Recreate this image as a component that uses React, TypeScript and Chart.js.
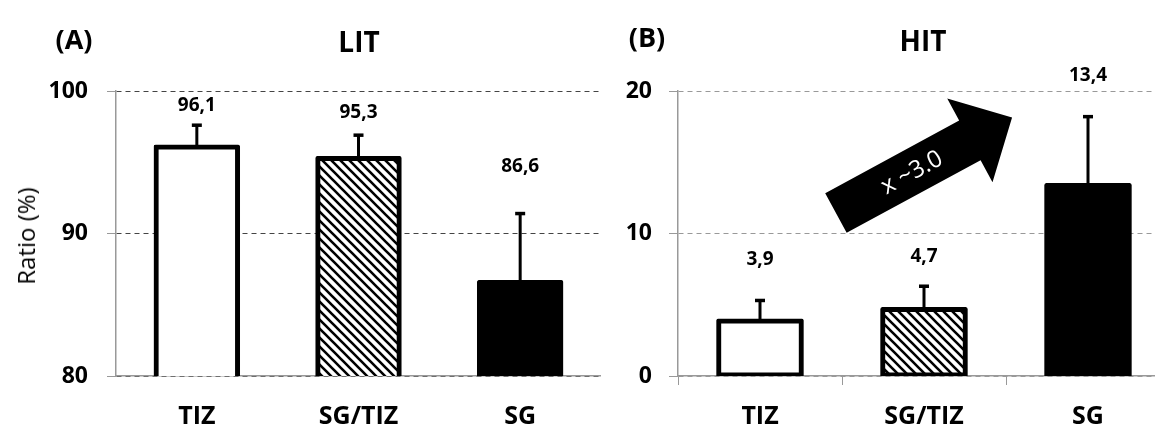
import React, { useEffect, useRef } from "react";
import { Chart, registerables } from "chart.js";

Chart.register(...registerables);

// ---- data ----
const categories = ["TIZ", "SG/TIZ", "SG"];
const litValues = [96.1, 95.3, 86.6];
const litErrors = [1.5, 1.6, 4.8];
const litValueLabels = ["96,1", "95,3", "86,6"];
const litTicks = [80, 90, 100];

const hitValues = [3.9, 4.7, 13.4];
const hitErrors = [1.4, 1.6, 4.8];
const hitValueLabels = ["3,9", "4,7", "13,4"];
const hitTicks = [0, 10, 20];

// label anchor heights (in value units)
const litLabelAt = [99.0, 98.5, 94.7];
const hitLabelAt = [8.15, 8.35, 21.05];

const FONT = "'Open Sans', Lato, sans-serif";

function makeHatch(): CanvasPattern | string {
  const s = 9;
  const c = document.createElement("canvas");
  c.width = s;
  c.height = s;
  const g = c.getContext("2d");
  if (!g) return "#888";
  g.fillStyle = "#fff";
  g.fillRect(0, 0, s, s);
  g.strokeStyle = "#000";
  g.lineWidth = 2.6;
  g.beginPath();
  g.moveTo(-2, -2);
  g.lineTo(s + 2, s + 2);
  g.moveTo(-2, s - 2);
  g.lineTo(2, s + 2);
  g.moveTo(s - 2, -2);
  g.lineTo(s + 2, 2);
  g.stroke();
  const p = g.createPattern(c, "repeat");
  return p || "#888";
}

const errPlugin = {
  id: "errs",
  afterDatasetsDraw(chart: any, _args: any, opts: any) {
    const meta = chart.getDatasetMeta(0);
    const y = chart.scales.y;
    const ctx = chart.ctx;
    ctx.save();
    meta.data.forEach((bar: any, i: number) => {
      const v = opts.values[i];
      const e = opts.errors[i];
      const x = bar.x;
      const yTop = y.getPixelForValue(v + e);
      const yBase = y.getPixelForValue(v);
      ctx.strokeStyle = "#000";
      ctx.lineWidth = 3;
      ctx.beginPath();
      ctx.moveTo(x, yBase);
      ctx.lineTo(x, yTop);
      ctx.stroke();
      ctx.lineWidth = 3.5;
      ctx.beginPath();
      ctx.moveTo(x - 5, yTop);
      ctx.lineTo(x + 5, yTop);
      ctx.stroke();
      ctx.font = `bold 19px ${FONT}`;
      ctx.fillStyle = "#000";
      ctx.textAlign = "center";
      ctx.textBaseline = "middle";
      ctx.fillText(opts.labels[i], x, y.getPixelForValue(opts.labelAt[i]));
    });
    ctx.restore();
  },
};

const arrowPlugin = {
  id: "arrow",
  afterDatasetsDraw(chart: any, _args: any, opts: any) {
    if (!opts || !opts.from) return;
    const xs = chart.scales.x;
    const ys = chart.scales.y;
    const tx = xs.getPixelForValue(opts.from.x);
    const ty = ys.getPixelForValue(opts.from.y);
    const px = xs.getPixelForValue(opts.to.x);
    const py = ys.getPixelForValue(opts.to.y);
    const dx = px - tx;
    const dy = py - ty;
    const len = Math.hypot(dx, dy);
    const ux = dx / len;
    const uy = dy / len;
    const nx = -uy;
    const ny = ux;
    const w = opts.shaft / 2;
    const h = opts.head / 2;
    const L = opts.headLength;
    const bx = tx + ux * (len - L);
    const by = ty + uy * (len - L);
    const ctx = chart.ctx;
    ctx.save();
    ctx.fillStyle = "#000";
    ctx.beginPath();
    ctx.moveTo(tx + nx * w, ty + ny * w);
    ctx.lineTo(bx + nx * w, by + ny * w);
    ctx.lineTo(bx + nx * h, by + ny * h);
    ctx.lineTo(px, py);
    ctx.lineTo(bx - nx * h, by - ny * h);
    ctx.lineTo(bx - nx * w, by - ny * w);
    ctx.lineTo(tx - nx * w, ty - ny * w);
    ctx.closePath();
    ctx.fill();
    const cx = tx + ux * opts.textAt;
    const cy = ty + uy * opts.textAt;
    ctx.translate(cx, cy);
    ctx.rotate(Math.atan2(dy, dx));
    ctx.fillStyle = "#fff";
    ctx.font = `24px ${FONT}`;
    ctx.textAlign = "center";
    ctx.textBaseline = "middle";
    ctx.fillText(opts.text, 0, 1);
    ctx.restore();
  },
};

function makeConfig(
  values: number[],
  errors: number[],
  labels: string[],
  labelAt: number[],
  ticks: number[],
  gridColor: string,
  axisWidth: number,
  tickPad: number,
  rightPad: number,
  xTicks: boolean,
  arrow: any
): any {
  const hatch = makeHatch();
  return {
    type: "bar",
    data: {
      labels: categories,
      datasets: [
        {
          data: values,
          backgroundColor: ["#ffffff", hatch, "#000000"],
          borderColor: "#000",
          borderWidth: 5,
          borderSkipped: false,
          borderRadius: 2,
          inflateAmount: 2,
          barPercentage: 0.51,
          categoryPercentage: 1,
        },
      ],
    },
    options: {
      animation: false,
      responsive: false,
      maintainAspectRatio: false,
      layout: { padding: { top: 91, right: rightPad, bottom: 0, left: 0 } },
      plugins: {
        legend: { display: false },
        tooltip: { enabled: false },
        errs: { values, errors, labels, labelAt },
        arrow: arrow || {},
      },
      scales: {
        x: {
          offset: true,
          grid: {
            display: xTicks,
            drawOnChartArea: false,
            drawTicks: true,
            tickLength: 9,
            color: "#999",
            offset: true,
          },
          border: { display: true, color: "#999", width: 1.5 },
          ticks: {
            color: "#000",
            font: { family: FONT, size: 25, weight: "bold" },
            padding: 17,
          },
          afterFit: (s: any) => {
            s.height = 49;
          },
        },
        y: {
          min: ticks[0],
          max: ticks[ticks.length - 1],
          afterBuildTicks: (s: any) => {
            s.ticks = ticks.map((v) => ({ value: v }));
          },
          grid: {
            color: gridColor,
            lineWidth: 1,
            tickColor: "#999",
            tickLength: 9,
            drawTicks: true,
          },
          border: { display: true, color: "#999", width: 1.5, dash: [5, 4] },
          ticks: {
            color: "#000",
            font: { family: FONT, size: 23, weight: "bold" },
            padding: tickPad,
          },
          afterFit: (s: any) => {
            s.width = axisWidth;
          },
        },
      },
    },
    plugins: [errPlugin, arrowPlugin],
  };
}

function Panel(props: { left: number; width: number; config: () => any }) {
  const ref = useRef<HTMLCanvasElement | null>(null);
  useEffect(() => {
    if (!ref.current) return;
    const chart = new Chart(ref.current, props.config());
    return () => chart.destroy();
  }, []);
  return (
    <canvas
      ref={ref}
      width={props.width}
      height={425}
      style={{ position: "absolute", left: props.left, top: 0, width: props.width, height: 425 }}
    />
  );
}

function Label(props: { x: number; y: number; size: number; bold?: boolean; rotate?: number; children: any }) {
  return (
    <div
      style={{
        position: "absolute",
        left: props.x,
        top: props.y,
        transform: `translate(-50%, -50%) rotate(${props.rotate || 0}deg)`,
        fontFamily: FONT,
        fontSize: props.size,
        fontWeight: props.bold ? 700 : 400,
        color: "#000",
        whiteSpace: "nowrap",
        lineHeight: 1,
      }}
    >
      {props.children}
    </div>
  );
}

export default function App() {
  return (
    <div
      style={{
        position: "absolute",
        left: 0,
        top: 0,
        width: 1155,
        height: 425,
        overflow: "hidden",
        background: "#fff",
      }}
    >
      <Panel
        left={0}
        width={601}
        config={() =>
          makeConfig(litValues, litErrors, litValueLabels, litLabelAt, litTicks, "#444", 116, 19, 0, false, null)
        }
      />
      <Panel
        left={560}
        width={620}
        config={() =>
          makeConfig(hitValues, hitErrors, hitValueLabels, hitLabelAt, hitTicks, "#999", 118, 17, 10, true, {
            from: { x: 0.463, y: 11.44 },
            to: { x: 1.537, y: 18.14 },
            shaft: 45,
            head: 95,
            headLength: 48,
            textAt: 86,
            text: "x ~3.0",
          })
        }
      />
      <Label x={74} y={38} size={27} bold>(A)</Label>
      <Label x={359} y={41} size={28} bold>LIT</Label>
      <Label x={647} y={36} size={27} bold>(B)</Label>
      <Label x={923} y={40} size={28} bold>HIT</Label>
      <Label x={26} y={236} size={24} rotate={-90}>Ratio (%)</Label>
    </div>
  );
}
